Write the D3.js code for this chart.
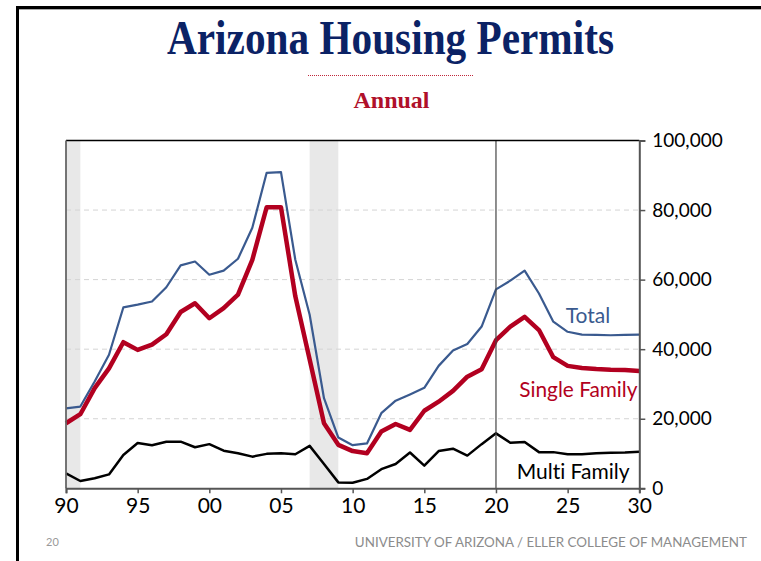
<!DOCTYPE html>
<html lang="en">
<head>
	<meta charset="UTF-8">
	<title>Arizona Housing Permits</title>
	<script src="https://d3js.org/d3.v7.min.js"></script>
	<style>
		* {
			margin: 0px;
			padding: 0px;
		}
		body { background: #fff; }
		text { font-family: Lato, "Open Sans", sans-serif; font-variant-ligatures: none; }
	</style>
</head>
<body>
	<svg width="761" height="561"></svg>
	<script>
		// annual permits, 1990 - 2030 (forecast after 2020)
		var years = [1990, 1991, 1992, 1993, 1994, 1995, 1996, 1997, 1998, 1999,
			2000, 2001, 2002, 2003, 2004, 2005, 2006, 2007, 2008, 2009,
			2010, 2011, 2012, 2013, 2014, 2015, 2016, 2017, 2018, 2019,
			2020, 2021, 2022, 2023, 2024, 2025, 2026, 2027, 2028, 2029, 2030];
		var total = [23000, 23500, 30700, 38400, 52000, 52800, 53700, 57800, 64100, 65200,
			61400, 62600, 66000, 74900, 90700, 90900, 65700, 49900, 25900, 14600,
			12400, 12900, 21600, 25200, 27000, 28900, 35200, 39600, 41500, 46500,
			57200, 59700, 62600, 56000, 47900, 45000, 44200, 44100, 44000, 44100, 44200];
		var singleFamily = [18700, 21300, 28800, 34500, 42000, 39800, 41300, 44300, 50700, 53200,
			48900, 51800, 55700, 65700, 80800, 80800, 55200, 37000, 18700, 12500,
			10700, 10100, 16300, 18500, 16800, 22300, 24900, 28000, 32100, 34200,
			42600, 46500, 49300, 45500, 37700, 35200, 34600, 34300, 34100, 34000, 33700];
		var multiFamily = [4300, 2100, 2900, 4000, 9600, 13000, 12400, 13400, 13400, 11800,
			12700, 10800, 10100, 9100, 9900, 10100, 9800, 12200, 7000, 1700,
			1600, 2700, 5500, 7000, 10300, 6500, 10700, 11400, 9400, 12700,
			15800, 13100, 13300, 10400, 10400, 9800, 9800, 10100, 10200, 10300, 10500];
		var recessions = [[1990, 1991], [2007, 2009]];
		var yTicks = [0, 20000, 40000, 60000, 80000, 100000];
		var xTicks = [1990, 1995, 2000, 2005, 2010, 2015, 2020, 2025, 2030];
		var forecastStart = 2020;

		var svg = d3.select("svg");

		var x = d3.scaleLinear().domain([1990, 2030]).range([66, 639.3]);
		var y = d3.scaleLinear().domain([0, 100000]).range([488.3, 140.5]);

		// slide frame
		svg.append("path")
			.attr("d", "M17.5,561V7.5H761")
			.attr("fill", "none")
			.attr("stroke", "#000")
			.attr("stroke-width", 3);
		svg.append("line")
			.attr("x1", 19).attr("x2", 761).attr("y1", 9.5).attr("y2", 9.5)
			.attr("stroke", "#aaa").attr("stroke-width", 1);

		// titles
		svg.append("text")
			.attr("transform", "translate(390.5,54) scale(0.86,1)")
			.attr("text-anchor", "middle")
			.style("font-family", "'Liberation Serif', 'Times New Roman', serif")
			.style("font-weight", "bold")
			.style("font-size", "48px")
			.attr("fill", "#0b2265")
			.text("Arizona Housing Permits");

		svg.append("line")
			.attr("x1", 308).attr("x2", 474).attr("y1", 75.5).attr("y2", 75.5)
			.attr("stroke", "#c0283c").attr("stroke-width", 1)
			.attr("stroke-dasharray", "1,1");

		svg.append("text")
			.attr("x", 391.5).attr("y", 108)
			.attr("text-anchor", "middle")
			.style("font-family", "'Liberation Serif', 'Times New Roman', serif")
			.style("font-weight", "bold")
			.style("font-size", "24px")
			.attr("fill", "#b0102a")
			.text("Annual");

		// recession shading
		svg.append("g").selectAll("rect")
			.data(recessions)
			.enter()
			.append("rect")
			.attr("x", function (d) { return x(d[0]); })
			.attr("width", function (d) { return x(d[1]) - x(d[0]); })
			.attr("y", y(100000))
			.attr("height", y(0) - y(100000))
			.attr("fill", "#e8e8e8");

		// grid
		svg.append("g").selectAll("line")
			.data(yTicks.slice(1, -1))
			.enter()
			.append("line")
			.attr("x1", x(1990)).attr("x2", x(2030))
			.attr("y1", function (d) { return y(d); })
			.attr("y2", function (d) { return y(d); })
			.attr("stroke", "#d4d4d4")
			.attr("stroke-width", 1)
			.attr("stroke-dasharray", "5,4");

		var line = function (values) {
			return d3.line()
				.x(function (d, i) { return x(years[i]); })
				.y(function (d) { return y(d); })(values);
		};

		svg.append("path").attr("d", line(total))
			.attr("fill", "none").attr("stroke", "#3a5a8f").attr("stroke-width", 2.2)
			.attr("stroke-linejoin", "round");
		svg.append("path").attr("d", line(singleFamily))
			.attr("fill", "none").attr("stroke", "#b20020").attr("stroke-width", 4.5)
			.attr("stroke-linejoin", "round");
		svg.append("path").attr("d", line(multiFamily))
			.attr("fill", "none").attr("stroke", "#000").attr("stroke-width", 2.5)
			.attr("stroke-linejoin", "round");

		// forecast divider
		svg.append("line")
			.attr("x1", x(forecastStart)).attr("x2", x(forecastStart))
			.attr("y1", y(100000)).attr("y2", y(0))
			.attr("stroke", "#444").attr("stroke-width", 1.2);

		// frame of plot: top and left
		svg.append("line")
			.attr("x1", x(1990)).attr("x2", x(2030))
			.attr("y1", y(100000)).attr("y2", y(100000))
			.attr("stroke", "#000").attr("stroke-width", 1.3);
		svg.append("line")
			.attr("x1", x(1990)).attr("x2", x(1990))
			.attr("y1", y(100000)).attr("y2", y(0))
			.attr("stroke", "#666").attr("stroke-width", 1.8);

		// axes
		var yAxis = svg.append("g")
			.attr("transform", "translate(" + x(2030) + ",0)")
			.call(d3.axisRight(y).tickValues(yTicks).tickSize(6).tickPadding(7)
				.tickFormat(d3.format(",")));
		yAxis.select(".domain").attr("stroke", "#555").attr("stroke-width", 2);
		yAxis.selectAll(".tick line").attr("stroke", "#555").attr("stroke-width", 1.5);
		yAxis.selectAll(".tick text")
			.style("font-family", "Lato, 'Open Sans', sans-serif")
			.style("font-size", "19px")
			.attr("fill", "#000");

		var xAxis = svg.append("g")
			.attr("transform", "translate(0," + y(0) + ")")
			.call(d3.axisBottom(x).tickValues(xTicks).tickSize(5).tickPadding(5)
				.tickFormat(function (d) { return d3.format("02d")(d % 100); }));
		xAxis.select(".domain").attr("stroke", "#555").attr("stroke-width", 2);
		xAxis.selectAll(".tick line").attr("stroke", "#555").attr("stroke-width", 1.5);
		xAxis.selectAll(".tick text")
			.style("font-family", "Lato, 'Open Sans', sans-serif")
			.style("font-size", "21px")
			.attr("fill", "#000");

		// series labels
		svg.append("text")
			.attr("x", 588).attr("y", 322.5)
			.attr("text-anchor", "middle")
			.style("font-size", "21px")
			.attr("fill", "#3a5a8f")
			.text("Total");
		svg.append("text")
			.attr("x", 637.5).attr("y", 397)
			.attr("text-anchor", "end")
			.style("font-size", "20.8px")
			.attr("fill", "#b20020")
			.text("Single Family");
		svg.append("text")
			.attr("x", 629.5).attr("y", 479)
			.attr("text-anchor", "end")
			.style("font-size", "21px")
			.attr("fill", "#000")
			.text("Multi Family");

		// footer
		svg.append("text")
			.attr("x", 46).attr("y", 546)
			.style("font-size", "11px")
			.attr("fill", "#999")
			.text("20");
		svg.append("text")
			.attr("x", 747).attr("y", 547)
			.attr("text-anchor", "end")
			.style("font-size", "13.4px")
			.attr("fill", "#8c8c8c")
			.text("UNIVERSITY OF ARIZONA / ELLER COLLEGE OF MANAGEMENT");
	</script>
</body>
</html>
